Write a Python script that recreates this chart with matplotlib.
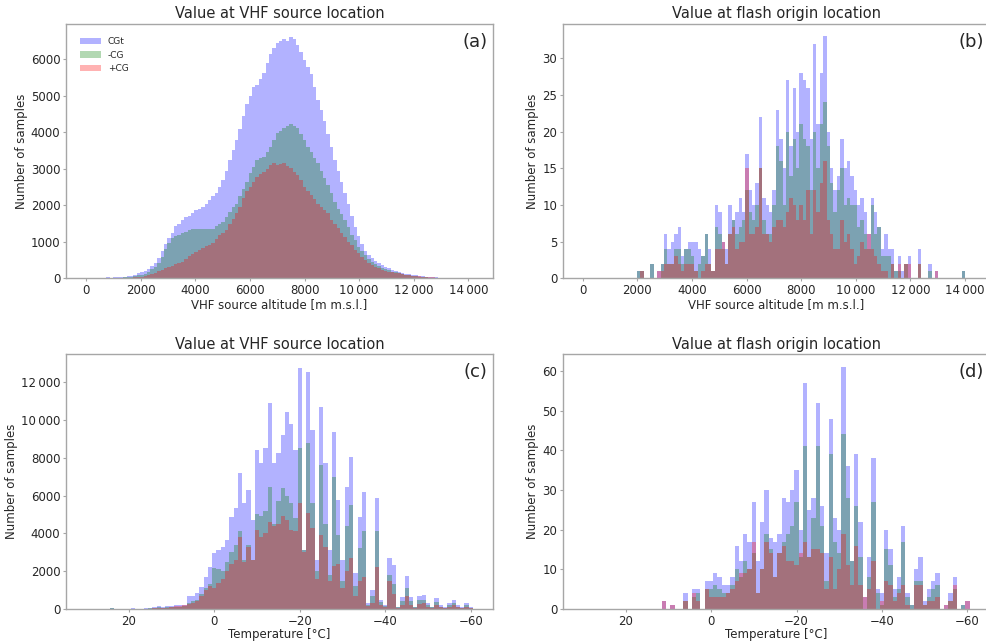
import numpy as np
import matplotlib
matplotlib.use("Agg")
import matplotlib.pyplot as plt
from matplotlib.ticker import FuncFormatter, MultipleLocator

# ---------------- data ----------------
series_labels = ["CGt", "-CG", "+CG"]
series_colors = ["blue", "green", "red"]

# altitude bins (m), 124 m wide, starting at 0
alt_bin_width = 124
alt_n_bins = 115

# (a) VHF source altitude, counts per bin
a_cgt = [5, 8, 10, 12, 15, 20, 25, 20, 25, 30,
         35, 40, 50, 70, 100, 150, 180, 210, 260, 330,
         420, 560, 740, 930, 1100, 1250, 1430, 1500, 1600, 1670,
         1720, 1800, 1880, 1910, 1960, 2050, 2150, 2250, 2340, 2500,
         2690, 2950, 3230, 3520, 3780, 4100, 4450, 4780, 5000, 5250,
         5300, 5450, 5620, 5900, 6150, 6300, 6440, 6500, 6560, 6500,
         6600, 6560, 6400, 6200, 5980, 5780, 5600, 5250, 4900, 4600,
         4320, 3950, 3600, 3250, 2950, 2650, 2330, 2050, 1700, 1400,
         1150, 950, 760, 640, 550, 470, 410, 360, 320, 280,
         240, 210, 180, 150, 130, 110, 90, 80, 65, 55,
         45, 38, 30, 25, 20, 15, 12, 10, 8, 6,
         5, 3, 2, 1, 1]
a_neg = [2, 3, 4, 5, 6, 8, 10, 10, 12, 15,
         18, 22, 30, 40, 60, 80, 100, 130, 180, 250,
         300, 420, 580, 800, 960, 1100, 1160, 1200, 1240, 1280,
         1320, 1340, 1340, 1340, 1340, 1340, 1340, 1360, 1420, 1480,
         1550, 1680, 1820, 1950, 2050, 2250, 2450, 2650, 2880, 3050,
         3240, 3290, 3330, 3450, 3600, 3800, 3970, 4050, 4110, 4170,
         4230, 4180, 4110, 3950, 3790, 3600, 3450, 3300, 3150, 2950,
         2750, 2550, 2330, 2100, 1900, 1750, 1600, 1400, 1200, 1050,
         870, 750, 640, 540, 460, 400, 340, 290, 250, 215,
         185, 160, 140, 120, 100, 80, 60, 50, 40, 32,
         25, 20, 15, 12, 10, 8, 6, 5, 4, 3,
         2, 2, 1, 1, 0]
a_pos = [1, 1, 2, 2, 3, 4, 5, 5, 6, 8,
         10, 12, 15, 20, 25, 30, 35, 50, 80, 110,
         150, 190, 230, 280, 320, 350, 380, 420, 460, 520,
         600, 670, 730, 780, 830, 880, 920, 980, 1080, 1180,
         1230, 1330, 1480, 1620, 1780, 1950, 2200, 2400, 2510, 2650,
         2790, 2860, 2920, 3000, 3100, 3150, 3100, 3120, 3150, 3080,
         3010, 2900, 2830, 2700, 2510, 2400, 2280, 2180, 2050, 1960,
         1880, 1780, 1600, 1480, 1370, 1250, 1140, 1000, 900, 780,
         680, 580, 490, 420, 365, 320, 280, 240, 210, 185,
         165, 150, 140, 120, 100, 85, 70, 60, 50, 42,
         35, 28, 22, 18, 15, 12, 10, 8, 6, 5,
         4, 3, 2, 1, 1]

# (b) flash origin altitude, counts per bin
b_cgt = [0] * 16 + [
    1, 1, 0, 0, 2, 0, 1, 2, 6, 4,
    5, 6, 7, 3, 4, 5, 5, 5, 4, 3,
    6, 4, 1, 10, 9, 5, 4, 10, 8, 9,
    11, 9, 17, 12, 10, 13, 22, 11, 10, 9,
    12, 23, 19, 15, 27, 18, 26, 20, 28, 27,
    26, 19, 32, 21, 28, 33, 20, 15, 12, 14,
    19, 15, 16, 14, 12, 10, 11, 9, 6, 11,
    9, 7, 4, 6, 4, 4, 1, 3, 1, 2,
    3, 0, 0, 4, 0, 0, 2, 0, 1, 0,
    0, 0, 0, 0, 0, 0, 1, 0, 0]
b_neg = [0] * 16 + [
    1, 1, 0, 0, 2, 0, 0, 2, 4, 2,
    2, 4, 4, 2, 4, 4, 3, 1, 2, 3,
    6, 2, 1, 7, 6, 4, 2, 6, 8, 6,
    7, 8, 12, 9, 8, 10, 15, 8, 6, 6,
    10, 18, 16, 10, 20, 14, 19, 15, 21, 19,
    18, 12, 20, 15, 21, 24, 18, 13, 9, 12,
    15, 10, 11, 10, 10, 7, 8, 6, 4, 10,
    6, 7, 3, 3, 3, 2, 1, 1, 0, 2,
    0, 0, 0, 2, 0, 0, 1, 0, 0, 0,
    0, 0, 0, 0, 0, 0, 1, 0, 0]
b_pos = [0] * 16 + [
    0, 1, 0, 0, 0, 0, 1, 1, 2, 2,
    2, 3, 2, 1, 2, 2, 2, 1, 0, 1,
    2, 2, 1, 4, 4, 5, 2, 6, 7, 4,
    5, 5, 15, 6, 6, 7, 15, 6, 6, 5,
    7, 8, 8, 7, 9, 11, 10, 8, 10, 8,
    12, 6, 12, 9, 13, 16, 8, 6, 4, 4,
    8, 5, 6, 4, 2, 3, 5, 4, 6, 4,
    3, 2, 1, 1, 0, 2, 0, 2, 0, 2,
    2, 0, 0, 2, 0, 0, 0, 0, 1, 0,
    0, 0, 0, 0, 0, 0, 0, 0, 0]

# temperature bins: 1 degC wide, centred on 30, 29, ..., -61 (warm -> cold)
temp_warm = 30
temp_cold = -61

# (c) VHF source temperature, counts per bin (warm -> cold)
c_cgt = [0,
         0, 0, 0, 0, 0, 60, 10, 0, 10, 20,
         30, 10, 20, 40, 60, 100, 180, 120, 150, 180,
         200, 200, 230, 690, 700, 830, 1180, 1710, 2240, 2940,
         3120, 3300, 3650, 4880, 5320, 7200, 5590, 6290, 4700, 8400,
         7740, 8490, 10870, 7740, 8230, 9200, 10430, 9810, 8400, 12760,
         3120, 12550, 9460, 2590, 10700, 7700, 3120, 9370, 5760, 2590,
         6470, 8050, 1890, 4880, 6200, 300, 1000, 5850, 480, 210,
         2680, 2330, 120, 650, 1740, 650, 120, 700, 740, 300,
         120, 560, 210, 90, 300, 480, 210, 90, 300, 90,
         0]
c_neg = [0,
         0, 0, 0, 0, 0, 30, 5, 0, 5, 10,
         15, 5, 10, 20, 30, 50, 90, 60, 80, 100,
         120, 130, 150, 300, 400, 500, 800, 1100, 1300, 2150,
         2100, 2000, 2500, 3000, 3400, 4150, 2600, 3400, 2600, 5000,
         4900, 5200, 6450, 4500, 5700, 6400, 6000, 5600, 4800, 8500,
         3100, 8800, 5600, 2000, 7600, 4500, 1800, 7000, 3900, 1500,
         4400, 5500, 1200, 3200, 4100, 200, 700, 4100, 350, 150,
         1800, 1300, 80, 400, 1100, 400, 80, 450, 500, 200,
         80, 350, 130, 60, 200, 300, 130, 60, 200, 60,
         0]
c_pos = [0,
         0, 0, 0, 0, 0, 20, 0, 0, 0, 5,
         10, 0, 5, 10, 20, 30, 60, 40, 60, 80,
         150, 180, 200, 250, 300, 400, 700, 1000, 1200, 1100,
         1400, 1600, 2000, 2400, 2600, 3800, 2500, 3300, 2600, 4200,
         3800, 4000, 4600, 4400, 4500, 4900, 4700, 4200, 4100, 5600,
         3000, 5100, 4300, 1600, 3900, 3300, 1500, 2300, 2400, 1100,
         2000, 2700, 700, 1500, 1700, 150, 300, 2200, 200, 100,
         1500, 800, 50, 200, 700, 200, 50, 250, 300, 100,
         50, 200, 80, 30, 100, 200, 80, 30, 100, 30,
         0]

# (d) flash origin temperature, counts per bin (warm -> cold)
d_cgt = [0] * 19 + [
    2, 0, 1, 0, 0, 4, 0, 5, 5, 0, 7,
    7, 9, 8, 6, 6, 8, 16, 12, 19, 17,
    27, 12, 22, 30, 18, 17, 19, 28, 27, 30,
    35, 20, 57, 25, 28, 52, 26, 14, 48, 23,
    20, 61, 36, 12, 39, 22, 3, 13, 38, 5,
    4, 20, 15, 5, 8, 21, 4, 1, 10, 13,
    2, 5, 7, 9, 0, 1, 4, 8, 0, 1,
    2, 0]
d_neg = [0] * 19 + [
    0, 0, 0, 0, 0, 2, 0, 3, 4, 0, 5,
    5, 6, 5, 4, 4, 6, 10, 8, 12, 10,
    14, 4, 10, 19, 15, 8, 14, 17, 19, 21,
    27, 13, 41, 13, 23, 41, 21, 7, 39, 17,
    14, 44, 28, 12, 26, 13, 0, 8, 27, 4,
    1, 15, 11, 3, 5, 17, 3, 1, 7, 7,
    1, 3, 5, 6, 0, 0, 2, 5, 0, 1,
    0, 0]
d_pos = [0] * 19 + [
    2, 0, 1, 0, 0, 2, 0, 4, 2, 0, 5,
    3, 3, 3, 3, 4, 5, 7, 9, 9, 10,
    17, 4, 10, 17, 14, 8, 14, 16, 12, 12,
    11, 14, 17, 13, 15, 15, 14, 5, 13, 5,
    10, 19, 11, 6, 16, 6, 3, 5, 12, 0,
    2, 7, 6, 2, 4, 6, 1, 0, 6, 6,
    1, 2, 2, 3, 0, 1, 2, 6, 0, 0,
    2, 0]

panel_titles = ["Value at VHF source location", "Value at flash origin location",
                "Value at VHF source location", "Value at flash origin location"]
panel_tags = ["(a)", "(b)", "(c)", "(d)"]
alt_xlabel = "VHF source altitude [m m.s.l.]"
temp_xlabel = "Temperature [\u00b0C]"
ylabel = "Number of samples"

# ---------------- plotting ----------------
alt_edges = np.arange(alt_n_bins + 1) * alt_bin_width
temp_edges = np.arange(temp_cold - 0.5, temp_warm + 1.0, 1.0)  # ascending


def fmt(x, pos):
    v = int(round(x))
    s = str(abs(v))
    if abs(v) >= 10000:
        s = f"{abs(v):,}".replace(",", "\u2009")
    return ("\u2212" if v < 0 else "") + s


text_color = "#262626"
spine_color = "#a6a6a6"

fig = plt.figure(figsize=(9.87, 6.42), dpi=100)
W, H = 987.0, 642.0
ax_w = 427 / W
ax_h_top = (278.3 - 24.0) / H
ax_h_bot = (609.0 - 354.3) / H
rects = [
    (66 / W, 1 - 278.3 / H, ax_w, ax_h_top),
    (562.7 / W, 1 - 278.3 / H, ax_w, ax_h_top),
    (66 / W, 1 - 609.0 / H, ax_w, ax_h_bot),
    (562.7 / W, 1 - 609.0 / H, ax_w, ax_h_bot),
]
axes = [fig.add_axes(r) for r in rects]

datasets = [
    (alt_edges, [a_cgt, a_neg, a_pos], False),
    (alt_edges, [b_cgt, b_neg, b_pos], False),
    (temp_edges, [c_cgt, c_neg, c_pos], True),
    (temp_edges, [d_cgt, d_neg, d_pos], True),
]

for k, (ax, (edges, series, is_temp)) in enumerate(zip(axes, datasets)):
    for vals, col, lab in zip(series, series_colors, series_labels):
        v = np.asarray(vals, dtype=float)
        if is_temp:
            v = v[::-1]
        ax.stairs(v, edges, fill=True, color=col, alpha=0.3, linewidth=0,
                  label=lab)
    if is_temp:
        ax.set_xlim(34.7, -65.2)
        ax.xaxis.set_major_locator(MultipleLocator(20))
        ax.set_xlabel(temp_xlabel, fontsize=8.5, color=text_color, labelpad=0.5)
    else:
        ax.set_xlim(-733, 14900)
        ax.xaxis.set_major_locator(MultipleLocator(2000))
        ax.set_xlabel(alt_xlabel, fontsize=8.5, color=text_color, labelpad=0.5)
    ax.set_ylabel(ylabel, fontsize=8.5, color=text_color, labelpad=2)
    ax.set_title(panel_titles[k], fontsize=10.5, color=text_color, pad=4)
    ax.text(0.987, 0.965, panel_tags[k], transform=ax.transAxes, ha="right",
            va="top", fontsize=13, color=text_color)
    ax.xaxis.set_major_formatter(FuncFormatter(fmt))
    ax.yaxis.set_major_formatter(FuncFormatter(fmt))
    ax.tick_params(labelsize=8.5, colors=text_color, length=2, width=0.8, pad=2)
    ax.tick_params(color=spine_color)
    for s in ax.spines.values():
        s.set_color(spine_color)
        s.set_linewidth(1.0)

axes[0].set_ylim(0, 6970)
axes[0].yaxis.set_major_locator(MultipleLocator(1000))
axes[1].set_ylim(0, 34.7)
axes[1].yaxis.set_major_locator(MultipleLocator(5))
axes[2].set_ylim(0, 13470)
axes[2].yaxis.set_major_locator(MultipleLocator(2000))
axes[3].set_ylim(0, 64.2)
axes[3].yaxis.set_major_locator(MultipleLocator(10))

axes[0].legend(loc="upper left", bbox_to_anchor=(0.024, 0.962), borderaxespad=0,
               frameon=False, fontsize=6.5, handlelength=2.3,
               labelcolor=text_color)

fig.savefig("out.png", dpi=100)
